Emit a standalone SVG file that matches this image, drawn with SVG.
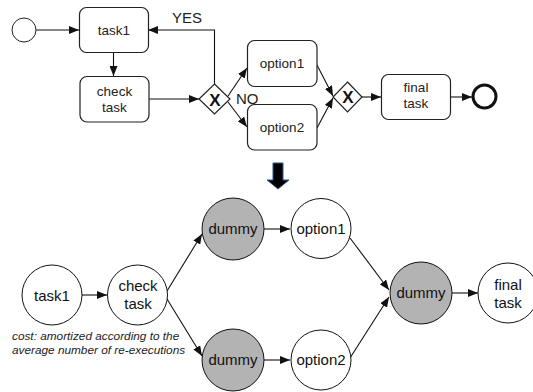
<svg xmlns="http://www.w3.org/2000/svg" width="533" height="392" viewBox="0 0 533 392">
<style>
.box{fill:#fff;stroke:#222;stroke-width:1.2}
.gw{fill:#fff;stroke:#222;stroke-width:1.2}
.c{fill:#fff;stroke:#111;stroke-width:1}
.g{fill:#b3b3b3;stroke:#111;stroke-width:1}
.t13{font-family:"Liberation Sans",Arial,sans-serif;font-size:13.5px;fill:#222;text-anchor:middle}
.t15{font-family:"Liberation Sans",Arial,sans-serif;font-size:15px;fill:#111;text-anchor:middle}
.x{font-family:"Liberation Sans",Arial,sans-serif;font-size:17px;font-weight:bold;fill:#111;text-anchor:middle}
.lbl{font-family:"Liberation Sans",Arial,sans-serif;font-size:15px;fill:#222}
.cost{font-family:"Liberation Sans",Arial,sans-serif;font-size:11.8px;font-style:italic;fill:#222}
.e{fill:none;stroke:#111;stroke-width:1.1;marker-end:url(#a)}
</style>
<defs>
<marker id="a" markerWidth="10" markerHeight="8" refX="10" refY="4" orient="auto" markerUnits="userSpaceOnUse"><path d="M0,0 L10,4 L0,8 z" fill="#111"/></marker>
</defs>
<g id="connectors">
<path class="e" d="M36,30 L79,30"/>
<path class="e" d="M113.5,52 L113.5,76"/>
<path class="e" d="M149,99 L199,99"/>
<path class="e" d="M214.5,84 L214.5,30 L148,30"/>
<path class="e" d="M228,96 L247,68"/>
<path class="e" d="M228,102 L247,127"/>
<path class="e" d="M317,65 L333,96"/>
<path class="e" d="M317,128 L333,98"/>
<path class="e" d="M362,97 L381,97"/>
<path class="e" d="M450,97 L472,97"/>
<path class="e" d="M82,295 L107,295"/>
<path class="e" d="M167,291 L202,234"/>
<path class="e" d="M167,299 L202,356"/>
<path class="e" d="M264,229 L290,229"/>
<path class="e" d="M264,360 L290,360"/>
<path class="e" d="M350,238 L389,290"/>
<path class="e" d="M350,358 L389,297"/>
<path class="e" d="M452,293 L478,293"/>
</g>
<g id="start"><circle cx="24" cy="30" r="12" fill="#fff" stroke="#222" stroke-width="1"/></g>
<g id="task1-top"><rect class="box" x="79.5" y="7.5" width="69" height="45" rx="7"/><text class="t13" x="114" y="35">task1</text></g>
<g id="check-top"><rect class="box" x="80" y="76.5" width="69" height="45.5" rx="7"/><text class="t13" x="114.5" y="96">check</text><text class="t13" x="114.5" y="112">task</text></g>
<g id="gw1"><polygon class="gw" points="214.5,84 230,99 214.5,114 199,99"/><text class="x" x="215" y="106">X</text></g>
<text class="lbl" x="172" y="23">YES</text>
<text class="lbl" x="236" y="104">NO</text>
<g id="option1-top"><rect class="box" x="247.5" y="40.5" width="69.5" height="46" rx="7"/><text class="t13" x="282" y="68">option1</text></g>
<g id="option2-top"><rect class="box" x="247.5" y="104.5" width="69.5" height="45.5" rx="7"/><text class="t13" x="282" y="132">option2</text></g>
<g id="gw2"><polygon class="gw" points="347.5,82 362,97 347.5,112 333,97"/><text class="x" x="348" y="103">X</text></g>
<g id="final-top"><rect class="box" x="381.5" y="74.5" width="69" height="45" rx="7"/><text class="t13" x="416" y="92">final</text><text class="t13" x="416" y="108">task</text></g>
<g id="end"><circle cx="484.5" cy="96.5" r="11.5" fill="#fff" stroke="#111" stroke-width="3"/></g>
<g id="bigarrow"><polygon points="273,163 283,163 283,180 289,180 278,189 267,180 273,180" fill="#000" stroke="#2b5797" stroke-width="1"/></g>
<g id="task1-b"><circle class="c" cx="52" cy="295" r="30"/><text class="t15" x="52" y="301">task1</text></g>
<g id="check-b"><circle class="c" cx="137.5" cy="295" r="30"/><text class="t15" x="138" y="291">check</text><text class="t15" x="138" y="309">task</text></g>
<g id="dummy1"><circle class="g" cx="233" cy="229" r="31"/><text class="t15" x="233" y="234">dummy</text></g>
<g id="option1-b"><circle class="c" cx="321" cy="228.5" r="30"/><text class="t15" x="321" y="234">option1</text></g>
<g id="dummy2"><circle class="g" cx="233" cy="360" r="31"/><text class="t15" x="233" y="365">dummy</text></g>
<g id="option2-b"><circle class="c" cx="321" cy="360" r="30"/><text class="t15" x="321" y="365">option2</text></g>
<g id="dummy3"><circle class="g" cx="421" cy="293" r="31"/><text class="t15" x="421" y="298">dummy</text></g>
<g id="final-b"><circle class="c" cx="508" cy="293" r="30"/><text class="t15" x="508" y="290">final</text><text class="t15" x="508" y="308">task</text></g>
<text class="cost" x="12" y="340">cost: amortized according to the</text>
<text class="cost" x="12" y="354">average number of re-executions</text>
</svg>
